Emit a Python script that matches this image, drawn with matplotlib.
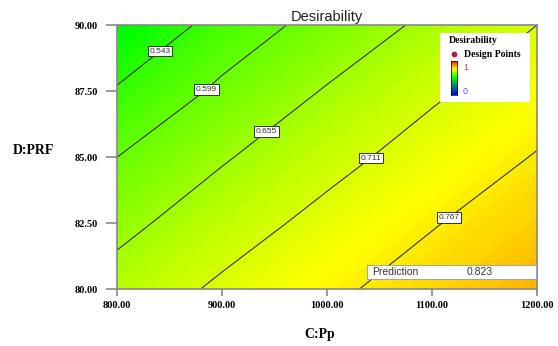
import numpy as np
import matplotlib
matplotlib.use("Agg")
import matplotlib.pyplot as plt
from matplotlib.colors import LinearSegmentedColormap

# factor levels (C:Pp along x, D:PRF along y)
pp_levels = [800.0, 900.0, 1000.0, 1100.0, 1200.0]
prf_levels = [80.0, 82.5, 85.0, 87.5, 90.0]

# desirability, rows = PRF, cols = Pp
desir = [
    [0.677, 0.720, 0.757, 0.790, 0.823],
    [0.640, 0.686, 0.727, 0.764, 0.797],
    [0.599, 0.650, 0.694, 0.734, 0.770],
    [0.549, 0.609, 0.659, 0.703, 0.741],
    [0.481, 0.567, 0.619, 0.667, 0.711],
]

contour_levels = [0.543, 0.599, 0.655, 0.711, 0.767]
label_spots = [(839, 89.1), (882, 87.7), (940, 86.1), (1037, 85.2), (1113, 82.9)]
prediction = 0.823

serif = "Liberation Serif"
sans = "Liberation Sans"

cmap = LinearSegmentedColormap.from_list(
    "desir", [(0.0, "#0000ff"), (0.5, "#00ff00"), (0.75, "#ffff00"), (1.0, "#ff0000")])

X, Y = np.meshgrid(pp_levels, prf_levels)
Z = np.array(desir)

fig = plt.figure(figsize=(5.58, 3.46), dpi=100)
ax = fig.add_axes([0.2097, 0.1633, 0.7527, 0.7644])

ax.contourf(X, Y, Z, levels=np.linspace(0, 1, 201), cmap=cmap, vmin=0, vmax=1)
cs = ax.contour(X, Y, Z, levels=contour_levels, colors="#333322", linewidths=0.8)
labels = ax.clabel(cs, fmt="%.3f", manual=label_spots, inline=False, fontsize=6)
for t in labels:
    t.set_rotation(0)
    t.set_family(sans)
    t.set_color("#333333")
    t.set_bbox(dict(facecolor="white", edgecolor="#333322", pad=1.2, linewidth=0.7))
    t.set_zorder(5)

ax.set_xlim(800, 1200)
ax.set_ylim(80, 90)
ax.set_xticks(pp_levels)
ax.set_yticks(prf_levels)
ax.set_xticklabels(["%.2f" % v for v in pp_levels])
ax.set_yticklabels(["%.2f" % v for v in prf_levels])
for lab in ax.get_xticklabels() + ax.get_yticklabels():
    lab.set_family(serif)
    lab.set_weight("bold")
    lab.set_fontsize(7.5)
ax.tick_params(axis="y", length=8, width=1.2, color="#888888", pad=6)
ax.tick_params(axis="x", length=5, width=1.2, color="#888888", pad=3)
for sp in ax.spines.values():
    sp.set_color("#888888")
    sp.set_linewidth(1.2)

ax.set_title("Desirability", family=sans, fontsize=10.5, pad=3, color="#222222")
ax.set_xlabel("C:Pp", family=serif, weight="bold", fontsize=10)
ax.xaxis.set_label_coords(0.483, -0.146)
ax.set_ylabel("D:PRF", family=serif, weight="bold", fontsize=10, rotation=0)
ax.yaxis.set_label_coords(-0.2, 0.50)

# legend box, top right
ax.add_patch(plt.Rectangle((0.769, 0.709), 0.214, 0.261, transform=ax.transAxes,
                           facecolor="white", edgecolor="none", zorder=6))
ax.text(0.79, 0.94, "Desirability", transform=ax.transAxes, family=serif,
        weight="bold", fontsize=7, va="center", zorder=7)
ax.scatter([0.803], [0.89], transform=ax.transAxes, s=10, color="#aa2233", zorder=7)
ax.text(0.826, 0.89, "Design Points", transform=ax.transAxes, family=serif,
        weight="bold", fontsize=7, va="center", zorder=7)
cax = ax.inset_axes([0.795, 0.735, 0.015, 0.13], zorder=7)
cax.imshow(np.linspace(1, 0, 50).reshape(-1, 1), cmap=cmap, aspect="auto", vmin=0, vmax=1)
cax.set_xticks([])
cax.set_yticks([])
for sp in cax.spines.values():
    sp.set_linewidth(0.5)
ax.text(0.824, 0.84, "1", transform=ax.transAxes, family=sans, fontsize=6.5,
        color="#dd3333", va="center", zorder=7)
ax.text(0.824, 0.75, "0", transform=ax.transAxes, family=sans, fontsize=6.5,
        color="#5555ee", va="center", zorder=7)

# prediction box, bottom right
ax.add_patch(plt.Rectangle((0.595, 0.04), 0.405, 0.053, transform=ax.transAxes,
                           facecolor="white", edgecolor="#999999", linewidth=0.6, zorder=6))
ax.plot([1.0, 1.0], [0.04, 0.093], transform=ax.transAxes, color="#8888ee",
        linewidth=1.2, zorder=7, clip_on=False)
ax.text(0.607, 0.066, "Prediction", transform=ax.transAxes, family=sans,
        fontsize=7.5, va="center", color="#333333", zorder=7)
ax.text(0.864, 0.066, "%.3f" % prediction, transform=ax.transAxes, family=sans,
        fontsize=7.5, va="center", ha="center", color="#333333", zorder=7)

fig.savefig("out.png", dpi=100)
